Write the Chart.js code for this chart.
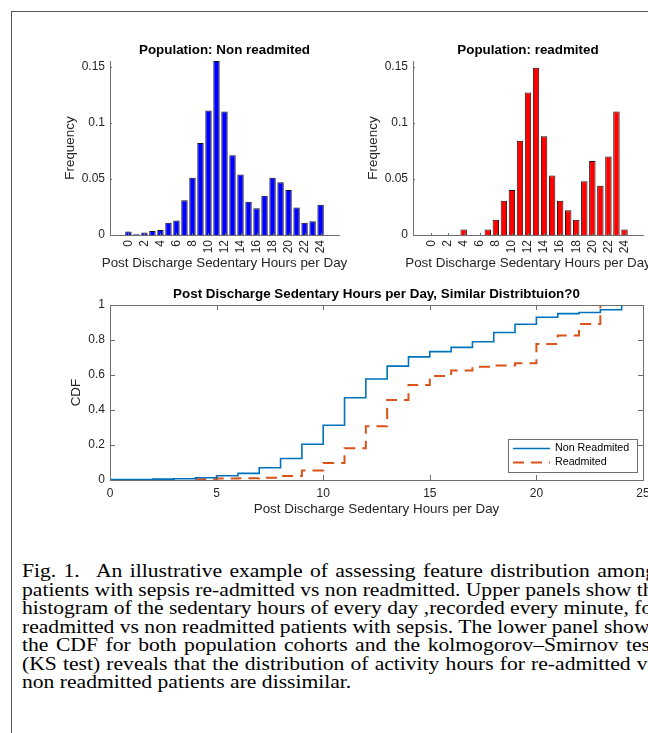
<!DOCTYPE html>
<html>
<head>
<meta charset="utf-8">
<script src="https://cdn.jsdelivr.net/npm/chart.js@4.4.1/dist/chart.umd.min.js"></script>
<style>
  body { margin: 0; background: #fff; width: 648px; height: 733px; overflow: hidden; position: relative; }
  #frame { position: absolute; left: 11px; top: 11px; width: 700px; height: 800px;
           border-top: 1.5px solid #555; border-left: 1.5px solid #555; }
  canvas { position: absolute; }
  #caption { position: absolute; left: 22px; top: 562px; width: 634px;
             font-family: 'Liberation Serif', 'Times New Roman', serif; font-size: 21.6px;
             line-height: 21.5px; color: #000; transform: scaleY(0.86); transform-origin: 0 0; }
  #caption div { text-align: justify; text-align-last: justify; white-space: nowrap; }
  #caption div.last { text-align: left; text-align-last: left; }
</style>
</head>
<body>
<div id="frame"></div>
<canvas id="histNon" width="300" height="240" style="left:55px;top:35px"></canvas>
<canvas id="histRead" width="290" height="240" style="left:358px;top:35px"></canvas>
<canvas id="cdf" width="593" height="240" style="left:55px;top:280px"></canvas>
<div id="caption">
  <div>Fig. 1.<span style="display:inline-block;width:10px"></span> An illustrative example of assessing feature distribution among</div>
  <div>patients with sepsis re-admitted vs non readmitted. Upper panels show the</div>
  <div>histogram of the sedentary hours of every day ,recorded every minute, for</div>
  <div>readmitted vs non readmitted patients with sepsis. The lower panel shows</div>
  <div>the CDF for both population cohorts and the kolmogorov–Smirnov test</div>
  <div>(KS test) reveals that the distribution of activity hours for re-admitted vs</div>
  <div class="last">non readmitted patients are dissimilar.</div>
</div>
<script>
// histogram data (bar centres 0..24 hours)
var hours = [0, 1, 2, 3, 4, 5, 6, 7, 8, 9, 10, 11, 12, 13, 14, 15, 16, 17, 18, 19, 20, 21, 22, 23, 24];
var nonFreq = [0.0032, 0.0007, 0.0023, 0.0035, 0.0044, 0.011, 0.013, 0.031, 0.051, 0.082, 0.111, 0.155,
               0.110, 0.071, 0.054, 0.0296, 0.0238, 0.035, 0.051, 0.047, 0.040, 0.0244, 0.011, 0.0123, 0.027];
var readFreq = [0, 0, 0, 0, 0.005, 0, 0, 0.005, 0.0135, 0.0305, 0.040, 0.084, 0.127, 0.149, 0.088,
                0.053, 0.0305, 0.022, 0.0135, 0.048, 0.066, 0.044, 0.070, 0.110, 0.005];
var histXTicks = [0, 2, 4, 6, 8, 10, 12, 14, 16, 18, 20, 22, 24];
var freqTicks = [0, 0.05, 0.1, 0.15];
var freqLabels = ['0', '0.05', '0.1', '0.15'];

// empirical CDF steps
var cdfNonX = [0, 1, 2, 3, 4, 5, 6, 7, 8, 9, 10, 11, 12, 13, 14, 15, 16, 17, 18, 19, 20, 21, 22, 23, 24];
var cdfNon = [0.003, 0.003, 0.005, 0.007, 0.013, 0.024, 0.038, 0.07, 0.123, 0.204, 0.313, 0.47, 0.577,
              0.651, 0.704, 0.734, 0.758, 0.79, 0.843, 0.89, 0.93, 0.951, 0.958, 0.973, 1.0];
var cdfReadX = [4, 5, 6, 7, 8, 9, 10, 11, 12, 13, 14, 15, 16, 17, 18, 19, 20, 21, 22, 23, 24];
var cdfRead = [0.005, 0.008, 0.01, 0.013, 0.023, 0.055, 0.097, 0.182, 0.307, 0.458, 0.543, 0.595,
               0.626, 0.647, 0.655, 0.667, 0.777, 0.826, 0.892, 1.0, 1.0];
var cdfXTicks = [0, 5, 10, 15, 20, 25];
var cdfYTicks = [0, 0.2, 0.4, 0.6, 0.8, 1];
var cdfYLabels = ['0', '0.2', '0.4', '0.6', '0.8', '1'];

var xLabel = 'Post Discharge Sedentary Hours per Day';

Chart.defaults.font.family = "'Liberation Sans', Arial, Helvetica, sans-serif";
Chart.defaults.color = '#262626';

var axisColor = '#6f6f6f';
var tickFont = { size: 12 };
var labelSize = 13.4;
var titleFont = { size: 13.4, weight: 'bold' };

// MATLAB style inward tick marks (and optional box)
var innerTicks = {
    id: 'innerTicks',
    afterDatasetsDraw: function (chart, args, opts) {
        var ctx = chart.ctx, a = chart.chartArea, len = opts.len;
        var sx = chart.scales.x, sy = chart.scales.y;
        ctx.save();
        ctx.strokeStyle = axisColor;
        ctx.lineWidth = 1;
        ctx.beginPath();
        sx.ticks.forEach(function (t) {
            var px = Math.round(sx.getPixelForValue(t.value)) + 0.5;
            ctx.moveTo(px, a.bottom); ctx.lineTo(px, a.bottom - len);
            if (opts.box) { ctx.moveTo(px, a.top); ctx.lineTo(px, a.top + len); }
        });
        sy.ticks.forEach(function (t) {
            var py = Math.round(sy.getPixelForValue(t.value)) + 0.5;
            ctx.moveTo(a.left, py); ctx.lineTo(a.left + len, py);
            if (opts.box) { ctx.moveTo(a.right, py); ctx.lineTo(a.right - len, py); }
        });
        ctx.stroke();
        if (opts.box) {
            ctx.strokeRect(Math.round(a.left) + 0.5, Math.round(a.top) + 0.5,
                Math.round(a.right - a.left), Math.round(a.bottom - a.top));
        }
        ctx.restore();
    }
};

// axis labels drawn unsqueezed (the built-in one is shrunk to the axis width)
var axisTitles = {
    id: 'axisTitles',
    afterDraw: function (chart, args, o) {
        var ctx = chart.ctx, a = chart.chartArea;
        ctx.save();
        ctx.font = labelSize + 'px ' + Chart.defaults.font.family;
        ctx.fillStyle = '#262626';
        ctx.textAlign = 'center';
        ctx.textBaseline = 'middle';
        ctx.fillText(o.x, (a.left + a.right) / 2, o.xPos);
        ctx.translate(o.yPos, (a.top + a.bottom) / 2);
        ctx.rotate(-Math.PI / 2);
        ctx.fillText(o.y, 0, 0);
        ctx.restore();
    }
};

// legend box in the lower right corner of the axes
var boxLegend = {
    id: 'boxLegend',
    afterDraw: function (chart, args, o) {
        var ctx = chart.ctx, a = chart.chartArea;
        var x = a.right - o.right - o.w, y = a.bottom - o.bottom - o.h;
        ctx.save();
        ctx.fillStyle = '#fff';
        ctx.fillRect(x, y, o.w, o.h);
        ctx.strokeStyle = axisColor;
        ctx.lineWidth = 1;
        ctx.strokeRect(Math.round(x) + 0.5, Math.round(y) + 0.5, o.w, o.h);
        ctx.font = o.fontSize + 'px ' + Chart.defaults.font.family;
        ctx.textBaseline = 'middle';
        chart.data.datasets.forEach(function (ds, i) {
            var ry = y + o.first + i * o.step;
            ctx.strokeStyle = ds.borderColor;
            ctx.lineWidth = ds.borderWidth;
            ctx.setLineDash(ds.borderDash || []);
            ctx.beginPath();
            ctx.moveTo(x + 5, ry); ctx.lineTo(x + 42, ry);
            ctx.stroke();
            ctx.setLineDash([]);
            ctx.fillStyle = '#000';
            ctx.fillText(ds.label, x + 47, ry);
        });
        ctx.restore();
    }
};

// keep the plot box where it is, whatever the end tick labels need
function fixX(h) {
    return function (s) { s.height = h; s.paddingLeft = 0; s.paddingRight = 0; };
}
function fixY(w) {
    return function (s) { s.width = w; s.paddingTop = 0; s.paddingBottom = 0; };
}

function histChart(id, title, freq, color, padRight, yPos) {
    return new Chart(document.getElementById(id), {
        type: 'bar',
        data: {
            datasets: [{
                data: hours.map(function (h, i) { return { x: h, y: freq[i] }; }),
                backgroundColor: color,
                borderColor: '#111',
                borderWidth: 1,
                barPercentage: 0.8,
                categoryPercentage: 1
            }]
        },
        options: {
            responsive: false,
            animation: false,
            layout: { padding: { left: 0, right: padRight, top: 0, bottom: 0 } },
            plugins: {
                legend: { display: false },
                tooltip: { enabled: false },
                title: { display: true, text: title, font: titleFont, color: '#000',
                         fullSize: false, padding: { top: 7, bottom: 3 } },
                innerTicks: { len: 2, box: false },
                axisTitles: { x: xLabel, y: 'Frequency', xPos: 228.5, yPos: yPos }
            },
            scales: {
                x: {
                    type: 'linear', min: -1.2, max: 25.2,
                    afterBuildTicks: function (s) { s.ticks = histXTicks.map(function (v) { return { value: v }; }); },
                    afterFit: fixX(40),
                    grid: { display: false, drawTicks: false },
                    border: { display: true, color: axisColor, width: 1 },
                    ticks: { minRotation: 90, maxRotation: 90, padding: 5, font: tickFont }
                },
                y: {
                    min: 0, max: 0.155,
                    afterBuildTicks: function (s) { s.ticks = freqTicks.map(function (v) { return { value: v }; }); },
                    afterFit: fixY(55),
                    grid: { display: false, drawTicks: false },
                    border: { display: true, color: axisColor, width: 1 },
                    ticks: { padding: 5, font: tickFont,
                             callback: function (v, i) { return freqLabels[i]; } }
                }
            }
        },
        plugins: [innerTicks, axisTitles]
    });
}

histChart('histNon', 'Population: Non readmited', nonFreq, '#0000ff', 16, 15);
histChart('histRead', 'Population: readmited', readFreq, '#ff0000', 5, 15.3);

new Chart(document.getElementById('cdf'), {
    type: 'line',
    data: {
        datasets: [{
            label: 'Non Readmited',
            data: cdfNonX.map(function (x, i) { return { x: x, y: cdfNon[i] }; }),
            borderColor: '#0072BD',
            borderWidth: 1.6,
            stepped: true,
            pointRadius: 0,
            fill: false
        }, {
            label: 'Readmited',
            data: cdfReadX.map(function (x, i) { return { x: x, y: cdfRead[i] }; }),
            borderColor: '#D95319',
            borderWidth: 2,
            borderDash: [11, 7],
            stepped: true,
            pointRadius: 0,
            fill: false
        }]
    },
    options: {
        responsive: false,
        animation: false,
        layout: { padding: { left: 0, right: 5, top: 0, bottom: 0 } },
        plugins: {
            legend: { display: false },
            tooltip: { enabled: false },
            title: { display: true, text: 'Post Discharge Sedentary Hours per Day, Similar Distribtuion?0',
                     font: titleFont, color: '#000', fullSize: false, padding: { top: 6, bottom: 3 } },
            innerTicks: { len: 5, box: true },
            axisTitles: { x: xLabel, y: 'CDF', xPos: 229, yPos: 21.7 },
            boxLegend: { w: 129, h: 33, right: 6, bottom: 8, first: 9.5, step: 14, fontSize: 10.7 }
        },
        scales: {
            x: {
                type: 'linear', min: 0, max: 25,
                afterBuildTicks: function (s) { s.ticks = cdfXTicks.map(function (v) { return { value: v }; }); },
                afterFit: fixX(40),
                grid: { display: false, drawTicks: false },
                border: { display: true, color: axisColor, width: 1 },
                ticks: { maxRotation: 0, padding: 6, font: tickFont }
            },
            y: {
                min: 0, max: 1,
                afterBuildTicks: function (s) { s.ticks = cdfYTicks.map(function (v) { return { value: v }; }); },
                afterFit: fixY(55),
                grid: { display: false, drawTicks: false },
                border: { display: true, color: axisColor, width: 1 },
                ticks: { padding: 5, font: tickFont,
                         callback: function (v, i) { return cdfYLabels[i]; } }
            }
        }
    },
    plugins: [innerTicks, axisTitles, boxLegend]
});
</script>
</body>
</html>
